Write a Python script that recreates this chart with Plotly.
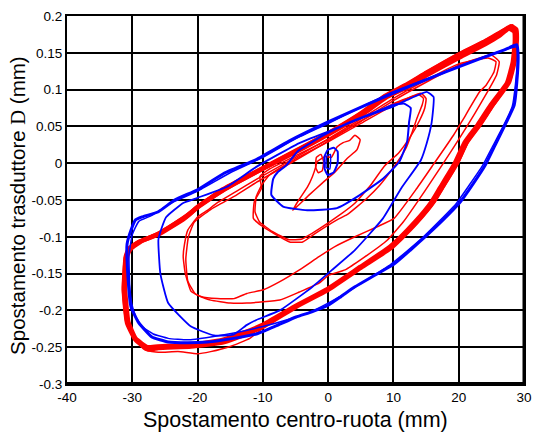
import plotly.graph_objects as go

# ---- axis ticks ----
x_tickvals = [-40, -30, -20, -10, 0, 10, 20, 30]
x_ticktext = ["-40", "-30", "-20", "-10", "0", "10", "20", "30"]
y_tickvals = [-0.3, -0.25, -0.2, -0.15, -0.1, -0.05, 0.0, 0.05, 0.1, 0.15, 0.2]
y_ticktext = ["-0.3", "-0.25", "-0.2", "-0.15", "-0.1", "-0.05", "0", "0.05", "0.1", "0.15", "0.2"]

# ---- red cycles (mm, mm) ----
r1_x = [28.0, 28.8, 28.9, 28.6, 27.7, 25.2, 23.2, 21.2, 19.6, 17.4, 16.1, 13.6, 11.2, 9.5, 5.2, 0.0, -4.9, -9.9, -12.5, -15.9,
        -21.0, -26.0, -27.5, -29.5, -30.8, -31.3, -31.0, -30.5, -29.0, -26.0, -22.0, -20.0, -16.0, -11.0, -5.0, 0.0, 5.0, 8.6, 12.0, 15.0,
        20.2, 24.0, 26.2, 28.0]
r1_y = [0.186, 0.182, 0.168, 0.140, 0.110, 0.079, 0.052, 0.028, -0.002, -0.034, -0.053, -0.080, -0.102, -0.116, -0.141, -0.172, -0.195, -0.222, -0.232, -0.243,
        -0.249, -0.251, -0.253, -0.240, -0.217, -0.172, -0.127, -0.116, -0.107, -0.097, -0.075, -0.060, -0.036, -0.012, 0.016, 0.040, 0.067, 0.090, 0.106, 0.122,
        0.148, 0.165, 0.176, 0.186]

r1b_x = [27.7, 28.5, 28.6, 28.3, 27.4, 24.9, 22.9, 20.9, 19.3, 17.1, 15.8, 13.3, 10.9, 9.1, 4.9, -0.3, -5.2, -10.1, -12.8, -16.2,
         -21.3, -26.1, -27.7, -29.5, -30.6, -31.1, -30.8, -30.3, -28.8, -25.8, -21.8, -19.8, -15.8, -10.8, -4.8, 0.2, 5.2, 8.8, 12.2, 15.2,
         20.4, 24.1, 26.2, 27.7]
r1b_y = [0.183, 0.179, 0.165, 0.138, 0.109, 0.079, 0.052, 0.028, -0.002, -0.034, -0.053, -0.080, -0.102, -0.116, -0.141, -0.172, -0.195, -0.220, -0.230, -0.240,
         -0.247, -0.249, -0.250, -0.238, -0.216, -0.172, -0.127, -0.117, -0.107, -0.095, -0.073, -0.058, -0.035, -0.011, 0.016, 0.040, 0.066, 0.089, 0.104, 0.120,
         0.145, 0.162, 0.173, 0.183]

r1c_x = [28.3, 29.0, 28.7, 27.9, 25.5, 23.5, 21.5, 19.9, 17.7, 16.4, 13.9, 11.5, 9.8, 5.4, 0.2, -4.7, -9.7, -12.0, -15.0, -18.0,
         -20.0, -23.0, -26.0, -28.0, -29.8, -31.0, -31.5, -31.2, -30.6, -29.2, -26.3, -22.3, -16.3, -11.2, -5.0, 0.0, 5.0, 8.6, 12.0, 15.0,
         20.2, 24.0, 26.2, 28.3]
r1c_y = [0.188, 0.168, 0.141, 0.111, 0.080, 0.053, 0.029, -0.001, -0.033, -0.052, -0.079, -0.101, -0.115, -0.140, -0.171, -0.195, -0.222, -0.238, -0.249, -0.256,
         -0.259, -0.256, -0.257, -0.254, -0.238, -0.215, -0.172, -0.128, -0.115, -0.106, -0.095, -0.073, -0.034, -0.010, 0.019, 0.043, 0.070, 0.093, 0.109, 0.125,
         0.151, 0.168, 0.179, 0.188]

r2a_x = [24.5, 25.7, 25.4, 24.2, 23.2, 20.7, 19.2, 16.1, 13.6, 10.1, 7.6, 4.1, 1.1, -1.4, -4.4, -7.4, -9.9, -12.45, -14.4, -17.0,
         -19.5, -21.0, -21.9, -22.2, -22.0, -21.5, -20.0, -18.5, -17.0, -14.0, -11.0, -5.0, 0.0, 5.0, 10.0, 15.0, 20.0, 24.5]
r2a_y = [0.143, 0.138, 0.124, 0.106, 0.097, 0.060, 0.038, -0.002, -0.034, -0.075, -0.086, -0.100, -0.113, -0.127, -0.145, -0.161, -0.172, -0.177, -0.184, -0.184,
         -0.181, -0.174, -0.149, -0.127, -0.110, -0.091, -0.073, -0.064, -0.054, -0.038, -0.022, 0.008, 0.033, 0.060, 0.088, 0.113, 0.135, 0.143]

r2b_x = [25.0, 26.2, 25.8, 24.6, 22.5, 20.2, 17.5, 14.8, 11.5, 9.0, 5.5, 2.6, 0.1, -1.4, -4.4, -7.4, -12.45, -15.0, -18.0, -20.3,
         -21.5, -21.8, -21.4, -20.5, -18.0, -14.0, -11.0, -5.0, 0.0, 5.0, 10.0, 15.0, 20.0, 25.0]
r2b_y = [0.147, 0.138, 0.120, 0.100, 0.068, 0.035, -0.002, -0.038, -0.080, -0.105, -0.128, -0.145, -0.152, -0.163, -0.175, -0.186, -0.190, -0.190, -0.186, -0.178,
         -0.160, -0.130, -0.100, -0.080, -0.063, -0.043, -0.026, 0.004, 0.030, 0.057, 0.085, 0.110, 0.133, 0.147]

r3a_x = [13.9, 14.6, 14.4, 13.6, 12.9, 11.9, 9.9, 7.9, 5.9, 2.9, 1.35, -1.9, -3.9, -5.9, -8.4, -10.2, -11.45, -11.3, -10.2, -10.45,
         -9.0, -5.0, 0.0, 5.0, 10.0, 13.9]
r3a_y = [0.093, 0.088, 0.079, 0.061, 0.043, 0.020, -0.007, -0.030, -0.048, -0.070, -0.077, -0.095, -0.107, -0.107, -0.095, -0.085, -0.075, -0.052, -0.034, -0.018,
         -0.008, 0.010, 0.032, 0.057, 0.081, 0.093]

r3b_x = [14.2, 15.0, 14.8, 14.0, 12.6, 10.8, 8.6, 6.5, 4.0, 1.5, -1.5, -4.0, -6.0, -8.5, -10.5, -11.2, -11.0, -10.2, -9.0, -5.0,
         0.0, 5.0, 10.0, 14.2]
r3b_y = [0.095, 0.088, 0.075, 0.058, 0.036, 0.014, -0.004, -0.030, -0.055, -0.072, -0.090, -0.103, -0.104, -0.093, -0.080, -0.066, -0.045, -0.030, -0.016, 0.006,
         0.029, 0.054, 0.079, 0.095]

r4_x = [-1.9, -1.7, -0.4, 0.5, 1.35, 2.3, 3.3, 4.1, 4.9, 4.4, 2.9, 1.1, -0.9, -2.9, -5.4, -4.5, -3.2, -2.4, -1.9]
r4_y = [-0.005, 0.002, 0.009, 0.008, 0.022, 0.028, 0.031, 0.038, 0.032, 0.018, 0.0065, -0.0115, -0.027, -0.043, -0.064, -0.050, -0.033, -0.018, -0.005]

r5_x = [-1.9, -1.8, -1.1, -0.7, -0.9, -1.5, -1.9]
r5_y = [-0.006, 0.008, 0.012, 0.002, -0.010, -0.013, -0.006]

# ---- blue cycles (mm, mm) ----
b1_x = [28.9, 29.1, 28.9, 28.5, 27.1, 25.6, 24.1, 22.2, 20.2, 17.6, 15.1, 12.6, 10.1, 7.0, 4.1, 2.0, 0.0, -2.5, -4.9, -8.0,
        -11.0, -14.5, -18.5, -21.5, -24.5, -27.0, -29.0, -30.2, -30.7, -30.8, -30.2, -29.5, -28.5, -26.0, -23.5, -20.0, -16.0, -11.0, -6.0, 0.0,
        6.0, 12.9, 18.0, 23.0, 27.0, 28.9]
b1_y = [0.161, 0.147, 0.110, 0.079, 0.052, 0.025, -0.002, -0.028, -0.053, -0.077, -0.098, -0.118, -0.137, -0.153, -0.168, -0.181, -0.193, -0.202, -0.209, -0.221,
        -0.232, -0.238, -0.243, -0.244, -0.243, -0.236, -0.217, -0.195, -0.149, -0.110, -0.091, -0.077, -0.073, -0.066, -0.050, -0.036, -0.014, 0.005, 0.030, 0.056,
        0.080, 0.106, 0.124, 0.141, 0.154, 0.161]

b1b_x = [28.9, 29.0, 28.7, 28.2, 26.8, 25.2, 23.6, 21.6, 19.6, 17.0, 14.6, 12.0, 9.5, 6.5, 3.5, 0.0, -3.0, -6.0, -10.0, -14.0,
         -18.0, -21.5, -24.5, -26.8, -28.5, -29.5, -30.1, -30.4, -30.5, -30.0, -29.0, -27.0, -24.0, -20.0, -15.0, -10.0, -5.0, 0.0, 5.0, 10.0,
         15.0, 20.0, 25.0, 28.9]
b1b_y = [0.158, 0.145, 0.108, 0.077, 0.050, 0.023, -0.004, -0.030, -0.055, -0.079, -0.100, -0.120, -0.138, -0.155, -0.172, -0.190, -0.203, -0.212, -0.222, -0.230,
         -0.236, -0.240, -0.238, -0.232, -0.222, -0.208, -0.190, -0.165, -0.125, -0.097, -0.079, -0.071, -0.054, -0.038, -0.013, 0.008, 0.033, 0.054, 0.076, 0.097,
         0.114, 0.131, 0.148, 0.158]

b2_x = [16.15, 15.85, 15.1, 14.2, 11.2, 8.4, 4.1, 0.6, -2.4, -7.4, -11.0, -12.5, -14.5, -17.5, -21.0, -24.5, -25.7, -26.0, -25.5, -24.8,
        -22.2, -20.0, -15.5, -11.0, -4.5, 0.6, 5.6, 9.7, 12.1, 15.1, 16.15]
b2_y = [0.090, 0.055, 0.027, 0.004, -0.034, -0.075, -0.118, -0.145, -0.168, -0.200, -0.213, -0.220, -0.233, -0.234, -0.222, -0.190, -0.150, -0.104, -0.088, -0.073,
        -0.054, -0.047, -0.032, -0.005, 0.027, 0.045, 0.063, 0.076, 0.086, 0.097, 0.090]

b3_x = [12.65, 12.4, 12.1, 10.9, 8.4, 4.9, 1.35, -3.2, -6.9, -8.7, -8.4, -7.7, -6.4, -4.7, -0.7, 3.4, 7.4, 9.9, 11.6, 12.65]
b3_y = [0.075, 0.056, 0.029, 0.002, -0.021, -0.043, -0.061, -0.064, -0.059, -0.043, -0.021, -0.012, -0.003, 0.016, 0.038, 0.056, 0.070, 0.079, 0.081, 0.075]

b4_x = [0.85, 1.45, 1.45, 0.85, -0.07, -0.56, -0.56, -0.07, 0.85]
b4_y = [0.021, 0.016, 0.0, -0.0125, -0.016, -0.007, 0.009, 0.018, 0.021]

b5_x = [0.35, 0.25, -0.3, -0.2, 0.35]
b5_y = [0.012, -0.008, -0.006, 0.010, 0.012]

RED = "#ff0000"
BLUE = "#0000ff"

cycles = [
    (r1c_x, r1c_y, RED, 1.5),
    (r1_x, r1_y, RED, 4.5),
    (r1b_x, r1b_y, RED, 4.5),
    (r2a_x, r2a_y, RED, 1.5),
    (r2b_x, r2b_y, RED, 1.5),
    (r3a_x, r3a_y, RED, 1.5),
    (r3b_x, r3b_y, RED, 1.5),
    (r4_x, r4_y, RED, 1.5),
    (r5_x, r5_y, RED, 1.5),
    (b1b_x, b1b_y, BLUE, 1.5),
    (b1_x, b1_y, BLUE, 3),
    (b2_x, b2_y, BLUE, 1.8),
    (b3_x, b3_y, BLUE, 2),
    (b4_x, b4_y, BLUE, 2),
    (b5_x, b5_y, BLUE, 1.5),
]

fig = go.Figure()
for xs, ys, col, w in cycles:
    fig.add_trace(go.Scatter(
        x=xs, y=ys, mode="lines",
        line=dict(color=col, width=w, shape="spline", smoothing=0.4),
        showlegend=False, hoverinfo="skip",
    ))

axis_font = dict(family="Arial, Liberation Sans, sans-serif", size=13.5, color="black")

fig.update_xaxes(
    range=[-40, 30], tickvals=x_tickvals, ticktext=x_ticktext,
    showgrid=True, gridcolor="black", gridwidth=2, zeroline=False,
    showline=True, linecolor="black", linewidth=2, mirror=True,
    ticks="", tickfont=axis_font,
)
fig.update_yaxes(
    range=[-0.3, 0.2], tickvals=y_tickvals, ticktext=y_ticktext,
    showgrid=True, gridcolor="black", gridwidth=2, zeroline=False,
    showline=True, linecolor="black", linewidth=2, mirror=True,
    ticks="", tickfont=axis_font,
)

# heavier bottom and right frame edges
fig.add_shape(type="line", xref="paper", yref="paper", x0=0, x1=1, y0=0, y1=0,
              line=dict(color="black", width=4))
fig.add_shape(type="line", xref="paper", yref="paper", x0=1, x1=1, y0=0, y1=1,
              line=dict(color="black", width=3))

fig.add_annotation(
    text="Spostamento centro-ruota (mm)", xref="paper", yref="paper",
    x=0.5, y=-0.098, xanchor="center", yanchor="middle", showarrow=False,
    font=dict(family="Arial, Liberation Sans, sans-serif", size=21.5, color="black"),
)
fig.add_annotation(
    text='Spostamento trasduttore <span style="font-family:Times New Roman,Liberation Serif,serif">D</span> (mm)',
    xref="paper", yref="paper", x=-0.11, y=0.486, xanchor="center", yanchor="middle",
    textangle=-90, showarrow=False,
    font=dict(family="Arial, Liberation Sans, sans-serif", size=20.5, color="black"),
)

fig.update_layout(
    width=540, height=433,
    margin=dict(l=67, r=8, t=16, b=49),
    paper_bgcolor="white", plot_bgcolor="white",
)

fig.write_html("out.html")
